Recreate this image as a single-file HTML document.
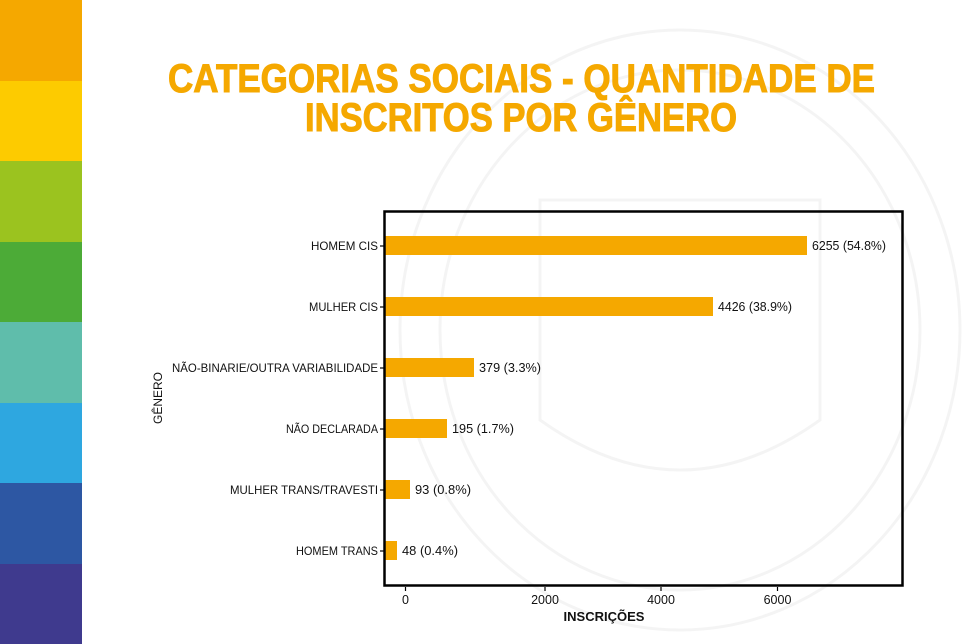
<!DOCTYPE html>
<html><head><meta charset="utf-8"><style>
html,body{margin:0;padding:0;background:#fff;}
svg{display:block;}
text{font-family:"Liberation Sans Narrow","Liberation Sans",sans-serif;}
</style></head><body>
<svg width="968" height="644" viewBox="0 0 968 644" xmlns="http://www.w3.org/2000/svg">
<rect width="968" height="644" fill="#fff"/>
<g opacity="0.04" fill="none" stroke="#000" stroke-width="3">
<ellipse cx="680" cy="330" rx="280" ry="300"/>
<ellipse cx="680" cy="330" rx="240" ry="260"/>
<path d="M540 200 L820 200 L820 420 Q680 520 540 420 Z"/>
</g>
<rect x="0" y="0" width="82" height="81" fill="#F5A800"/>
<rect x="0" y="81" width="82" height="80" fill="#FDCB00"/>
<rect x="0" y="161" width="82" height="81" fill="#9BC31F"/>
<rect x="0" y="242" width="82" height="80" fill="#4CAB37"/>
<rect x="0" y="322" width="82" height="81" fill="#5FBDAB"/>
<rect x="0" y="403" width="82" height="80" fill="#2EA7E0"/>
<rect x="0" y="483" width="82" height="81" fill="#2D57A3"/>
<rect x="0" y="564" width="82" height="80" fill="#3F3A8E"/>
<g stroke="#F5A800" stroke-width="1" fill="#F5A800">
<text x="168" y="92" textLength="707" lengthAdjust="spacingAndGlyphs" font-size="40" font-weight="bold">CATEGORIAS SOCIAIS - QUANTIDADE DE</text>
<text x="305" y="131" textLength="432" lengthAdjust="spacingAndGlyphs" font-size="40" font-weight="bold">INSCRITOS POR GÊNERO</text>
</g>
<g fill="#F5A800">
<rect x="385" y="236" width="422" height="19"/>
<rect x="385" y="297" width="328" height="19"/>
<rect x="385" y="358" width="89" height="19"/>
<rect x="385" y="419" width="62" height="19"/>
<rect x="385" y="480" width="25" height="19"/>
<rect x="385" y="541" width="12" height="19"/>
</g>
<rect x="384.5" y="211.5" width="518" height="374" fill="none" stroke="#000" stroke-width="2.5"/>
<g font-size="12.5" fill="#111" lengthAdjust="spacingAndGlyphs">
<text x="812" y="250" textLength="74" lengthAdjust="spacingAndGlyphs">6255 (54.8%)</text>
<text x="718" y="311" textLength="74" lengthAdjust="spacingAndGlyphs">4426 (38.9%)</text>
<text x="479" y="372" textLength="62" lengthAdjust="spacingAndGlyphs">379 (3.3%)</text>
<text x="452" y="433" textLength="62" lengthAdjust="spacingAndGlyphs">195 (1.7%)</text>
<text x="415" y="494" textLength="56" lengthAdjust="spacingAndGlyphs">93 (0.8%)</text>
<text x="402" y="555" textLength="56" lengthAdjust="spacingAndGlyphs">48 (0.4%)</text>
</g>
<g font-size="12" fill="#111">
<text x="311" y="250" textLength="67" lengthAdjust="spacingAndGlyphs">HOMEM CIS</text>
<text x="309" y="311" textLength="69" lengthAdjust="spacingAndGlyphs">MULHER CIS</text>
<text x="172" y="372" textLength="206" lengthAdjust="spacingAndGlyphs">NÃO-BINARIE/OUTRA VARIABILIDADE</text>
<text x="286" y="433" textLength="92" lengthAdjust="spacingAndGlyphs">NÃO DECLARADA</text>
<text x="230" y="494" textLength="148" lengthAdjust="spacingAndGlyphs">MULHER TRANS/TRAVESTI</text>
<text x="296" y="555" textLength="82" lengthAdjust="spacingAndGlyphs">HOMEM TRANS</text>
</g>
<g stroke="#000" stroke-width="1.2">
<line x1="380" y1="246" x2="384" y2="246"/>
<line x1="380" y1="307" x2="384" y2="307"/>
<line x1="380" y1="368" x2="384" y2="368"/>
<line x1="380" y1="429" x2="384" y2="429"/>
<line x1="380" y1="490" x2="384" y2="490"/>
<line x1="380" y1="551" x2="384" y2="551"/>
<line x1="405.5" y1="587" x2="405.5" y2="591"/>
<line x1="545" y1="587" x2="545" y2="591"/>
<line x1="661" y1="587" x2="661" y2="591"/>
<line x1="777.5" y1="587" x2="777.5" y2="591"/>
</g>
<g font-size="12.5" fill="#111" text-anchor="middle">
<text x="405.5" y="604">0</text>
<text x="545" y="604">2000</text>
<text x="661" y="604">4000</text>
<text x="777.5" y="604">6000</text>
</g>
<text x="604" y="621" font-size="13" font-weight="bold" text-anchor="middle" fill="#111">INSCRIÇÕES</text>
<text transform="translate(162,398) rotate(-90)" font-size="12" text-anchor="middle" fill="#111">GÊNERO</text>
</svg>
</body></html>
